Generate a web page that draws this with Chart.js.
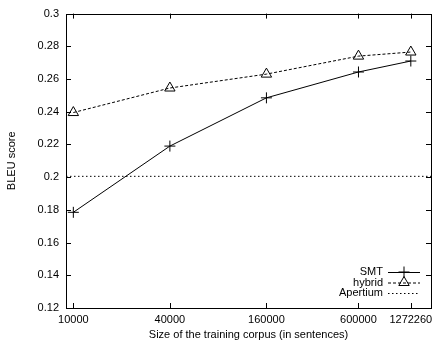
<!DOCTYPE html>
<html>
<head>
<meta charset="utf-8">
<script src="https://cdn.jsdelivr.net/npm/chart.js@4/dist/chart.umd.min.js"></script>
<style>
  html, body { margin: 0; padding: 0; background: #fff; }
  #wrap { width: 438px; height: 342px; }
</style>
</head>
<body>
<div id="wrap"><canvas id="chart" width="438" height="342"></canvas></div>
<script>
// --- data ---
const corpusSizes = [10000, 40000, 160000, 600000, 1272260];
const smtScores = [0.1785, 0.219, 0.2485, 0.2643, 0.271];
const hybridScores = [0.2395, 0.2545, 0.263, 0.274, 0.2765];
const apertiumScore = 0.2005;
const xRange = [9000, 1700000];
const yTicks = [0.12, 0.14, 0.16, 0.18, 0.2, 0.22, 0.24, 0.26, 0.28, 0.3];

const FONT = { family: "'Liberation Sans', Arial, Helvetica, sans-serif", size: 11 };

const toPoints = (ys) => corpusSizes.map((x, i) => ({ x, y: ys[i] }));

// gnuplot-like frame with inward ticks on all four sides
const framePlugin = {
  id: 'frame',
  afterDatasetsDraw(chart) {
    const { ctx, chartArea: a, scales } = chart;
    const len = 5;
    ctx.save();
    ctx.strokeStyle = '#000';
    ctx.lineWidth = 1;
    ctx.beginPath();
    scales.y.ticks.forEach(t => {
      const py = Math.round(scales.y.getPixelForValue(t.value)) + 0.5;
      ctx.moveTo(a.left, py); ctx.lineTo(a.left + len, py);
      ctx.moveTo(a.right, py); ctx.lineTo(a.right - len, py);
    });
    scales.x.ticks.forEach(t => {
      const px = Math.round(scales.x.getPixelForValue(t.value)) + 0.5;
      ctx.moveTo(px, a.bottom); ctx.lineTo(px, a.bottom - len);
      ctx.moveTo(px, a.top); ctx.lineTo(px, a.top + len);
    });
    ctx.stroke();
    ctx.strokeRect(Math.round(a.left) + 0.5, Math.round(a.top) + 0.5,
      Math.round(a.right - a.left), Math.round(a.bottom - a.top));
    ctx.restore();
  }
};

// legend in the bottom right corner: text right-aligned, sample to the right
const keyPlugin = {
  id: 'key',
  afterDraw(chart) {
    const { ctx, chartArea: a } = chart;
    const textRight = a.right - 48;
    const x0 = a.right - 43, x1 = a.right - 11;
    let y = a.bottom - 36;
    ctx.save();
    ctx.font = `${FONT.size}px ${FONT.family}`;
    ctx.textAlign = 'right';
    ctx.textBaseline = 'middle';
    chart.data.datasets.forEach(ds => {
      ctx.fillStyle = '#000';
      ctx.fillText(ds.label, textRight, y);
      ctx.strokeStyle = ds.borderColor;
      ctx.lineWidth = ds.borderWidth;
      ctx.setLineDash(ds.borderDash || []);
      ctx.beginPath();
      ctx.moveTo(x0, y + 0.5); ctx.lineTo(x1, y + 0.5);
      ctx.stroke();
      ctx.setLineDash([]);
      if (ds.pointRadius > 0) {
        ctx.fillStyle = ds.pointBackgroundColor;
        ctx.strokeStyle = ds.borderColor;
        Chart.helpers.drawPoint(ctx, {
          pointStyle: ds.pointStyle, radius: ds.pointRadius,
          rotation: 0, borderWidth: ds.pointBorderWidth
        }, (x0 + x1) / 2, y);
      }
      y += 10.5;
    });
    ctx.restore();
  }
};

new Chart(document.getElementById('chart'), {
  type: 'line',
  data: {
    datasets: [
      {
        label: 'SMT',
        data: toPoints(smtScores),
        borderColor: '#000',
        borderWidth: 1,
        pointStyle: 'cross',
        pointRadius: 5.5,
        pointBorderWidth: 1,
        pointBackgroundColor: 'transparent',
        pointBorderColor: '#000',
        tension: 0,
      },
      {
        label: 'hybrid',
        data: toPoints(hybridScores),
        borderColor: '#000',
        borderWidth: 1,
        borderDash: [3, 2],
        pointStyle: 'triangle',
        pointRadius: 6,
        pointBorderWidth: 1,
        pointBackgroundColor: 'transparent',
        pointBorderColor: '#000',
        tension: 0,
      },
      {
        label: 'Apertium',
        data: xRange.map(x => ({ x, y: apertiumScore })),
        borderColor: '#000',
        borderWidth: 1,
        borderDash: [1.5, 2.5],
        pointRadius: 0,
        tension: 0,
      }
    ]
  },
  options: {
    responsive: false,
    animation: false,
    devicePixelRatio: 1,
    layout: { padding: { top: 12, right: 2, left: 0, bottom: 0 } },
    plugins: { legend: { display: false }, tooltip: { enabled: false } },
    scales: {
      x: {
        type: 'logarithmic',
        min: xRange[0],
        max: xRange[1],
        grid: { display: false, drawTicks: false },
        border: { display: false },
        afterBuildTicks: (s) => { s.ticks = corpusSizes.map(v => ({ value: v })); },
        afterFit: (s) => { s.height = 34; },
        ticks: {
          color: '#000', font: FONT, padding: 5, maxRotation: 0, autoSkip: false,
          callback: (v) => String(v)
        },
        title: {
          display: true, text: 'Size of the training corpus (in sentences)',
          color: '#000', font: FONT, padding: { top: 0, bottom: 0 }
        }
      },
      y: {
        min: yTicks[0],
        max: yTicks[yTicks.length - 1],
        grid: { display: false, drawTicks: false },
        border: { display: false },
        afterBuildTicks: (s) => { s.ticks = yTicks.map(v => ({ value: v })); },
        afterFit: (s) => { s.width = 66; },
        ticks: {
          color: '#000', font: FONT, padding: 7,
          callback: (v) => String(+v.toFixed(2))
        },
        title: {
          display: true, text: 'BLEU score',
          color: '#000', font: FONT, padding: { top: 5, bottom: 0 }
        }
      }
    }
  },
  plugins: [framePlugin, keyPlugin]
});
</script>
</body>
</html>
